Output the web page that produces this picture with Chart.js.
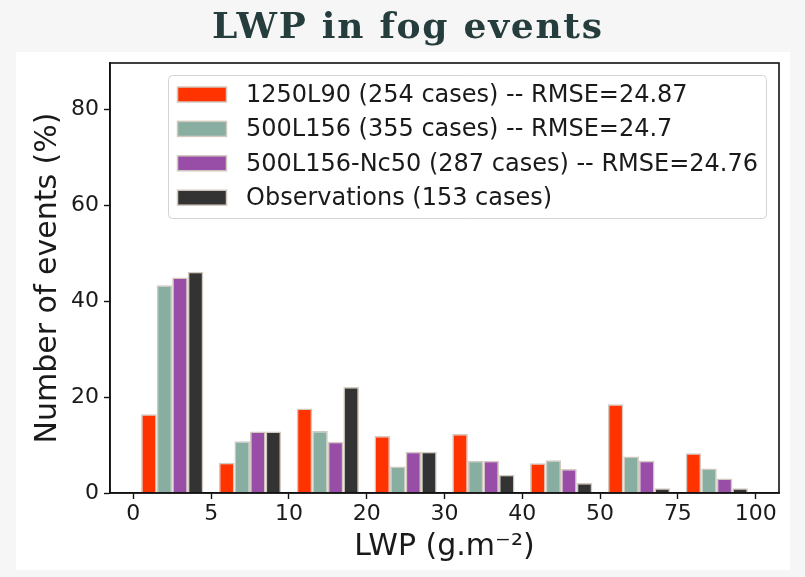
<!DOCTYPE html>
<html>
<head>
<meta charset="utf-8">
<script src="https://cdn.jsdelivr.net/npm/chart.js@4.4.1/dist/chart.umd.min.js"></script>
<style>
  html, body { margin: 0; padding: 0; background: #f6f6f6; }
  canvas { display: block; }
</style>
</head>
<body>
<canvas id="lwpChart" width="805" height="577"></canvas>
<script>
// ===== data =====
const binEdges = ['0', '5', '10', '20', '30', '40', '50', '75', '100'];
const bins = ['0-5', '5-10', '10-20', '20-30', '30-40', '40-50', '50-75', '75-100'];
const run1250L90 = [16.4, 6.3, 17.6, 11.9, 12.3, 6.2, 18.5, 8.3];
const run500L156 = [43.3, 10.8, 12.9, 5.5, 6.7, 6.8, 7.6, 5.1];
const run500L156Nc50 = [44.9, 12.8, 10.7, 8.6, 6.7, 5.0, 6.7, 3.0];
const observations = [46.1, 12.8, 22.1, 8.6, 3.8, 2.1, 1.0, 1.0];
const yTicks = [0, 20, 40, 60, 80];

const font = 'DejaVu Sans';
const edge = '#d2c9bf';
const ink = '#1a1a1a';

// bars sit in the middle of each bin, ticks on the bin edges
const toPoints = arr => arr.map((v, i) => ({ x: i + 0.5, y: v }));

function series(label, values, color) {
  return {
    label: label,
    data: toPoints(values),
    backgroundColor: color,
    borderColor: edge,
    borderWidth: 1.5,
    categoryPercentage: 0.8,
    barPercentage: 1.0
  };
}

// ===== background, frame + title =====
const page = {
  id: 'page',
  beforeDraw(chart) {
    const ctx = chart.ctx;
    ctx.save();
    ctx.fillStyle = '#f6f6f6';
    ctx.fillRect(0, 0, chart.width, chart.height);
    ctx.fillStyle = '#ffffff';
    ctx.fillRect(16, 52, 774, 518);
    ctx.restore();
  },
  afterDraw(chart) {
    const ctx = chart.ctx;
    const a = chart.chartArea;
    ctx.save();
    ctx.strokeStyle = '#111';
    ctx.lineWidth = 1.6;
    ctx.strokeRect(a.left, a.top, a.right - a.left, a.bottom - a.top);

    const title = 'LWP in fog events';
    ctx.fillStyle = '#263d3d';
    ctx.font = 'bold 36px "DejaVu Serif"';
    ctx.textAlign = 'left';
    ctx.textBaseline = 'alphabetic';
    const w = ctx.measureText(title).width;
    if ('letterSpacing' in ctx && w < 390) {
      ctx.letterSpacing = ((390 - w) / (title.length - 1)).toFixed(2) + 'px';
    }
    ctx.fillText(title, 212, 38);
    ctx.restore();
  }
};

// ===== legend inside the axes =====
const boxLegend = {
  id: 'boxLegend',
  afterDatasetsDraw(chart) {
    const ctx = chart.ctx;
    ctx.save();
    ctx.fillStyle = 'rgba(255,255,255,0.8)';
    ctx.strokeStyle = '#d4d4d4';
    ctx.lineWidth = 1;
    ctx.beginPath();
    ctx.roundRect(168.5, 75.5, 598, 143, 4);
    ctx.fill();
    ctx.stroke();
    ctx.font = '24px "' + font + '"';
    ctx.textBaseline = 'middle';
    chart.data.datasets.forEach((ds, i) => {
      const y = 94.5 + i * 34.4;
      ctx.fillStyle = ds.backgroundColor;
      ctx.fillRect(177.5, y - 7.5, 49, 15);
      ctx.strokeStyle = edge;
      ctx.lineWidth = 1.5;
      ctx.strokeRect(177.5, y - 7.5, 49, 15);
      ctx.fillStyle = ink;
      ctx.fillText(ds.label, 246, y + 1);
    });
    ctx.restore();
  }
};

new Chart(document.getElementById('lwpChart'), {
  type: 'bar',
  data: {
    datasets: [
      series('1250L90 (254 cases) -- RMSE=24.87', run1250L90, '#ff3300'),
      series('500L156 (355 cases) -- RMSE=24.7', run500L156, '#87aea0'),
      series('500L156-Nc50 (287 cases) -- RMSE=24.76', run500L156Nc50, '#984ea7'),
      series('Observations (153 cases)', observations, '#333333')
    ]
  },
  options: {
    responsive: false,
    animation: false,
    devicePixelRatio: 1,
    layout: { padding: { left: 0, right: 26, top: 63, bottom: 0 } },
    plugins: {
      legend: { display: false },
      tooltip: { enabled: false }
    },
    scales: {
      x: {
        type: 'linear',
        min: -0.3,
        max: 8.3,
        offset: false,
        grid: { offset: false, drawOnChartArea: false, drawTicks: true, tickLength: 6, tickColor: '#111', tickWidth: 1.4 },
        border: { display: true, color: '#111', width: 1.6 },
        afterBuildTicks: s => { s.ticks = binEdges.map((e, i) => ({ value: i })); },
        afterFit: s => { s.height = 84; },
        ticks: {
          autoSkip: false,
          maxRotation: 0,
          padding: 2,
          color: ink,
          font: { family: font, size: 22 },
          callback: v => binEdges[v]
        },
        title: {
          display: true,
          text: 'LWP (g.m⁻²)',
          color: ink,
          font: { family: font, size: 30 },
          padding: { top: 0, bottom: 12 }
        }
      },
      y: {
        min: 0,
        max: 89.6,
        grid: { drawOnChartArea: false, drawTicks: true, tickLength: 6, tickColor: '#111', tickWidth: 1.4 },
        border: { display: true, color: '#111', width: 1.6 },
        afterBuildTicks: s => { s.ticks = yTicks.map(v => ({ value: v })); },
        afterFit: s => { s.width = 110; },
        ticks: {
          padding: 5,
          color: ink,
          font: { family: font, size: 22 }
        },
        title: {
          display: true,
          text: 'Number of events (%)',
          color: ink,
          font: { family: font, size: 30 },
          padding: { top: 30, bottom: 0 }
        }
      }
    }
  },
  plugins: [page, boxLegend]
});
</script>
</body>
</html>
